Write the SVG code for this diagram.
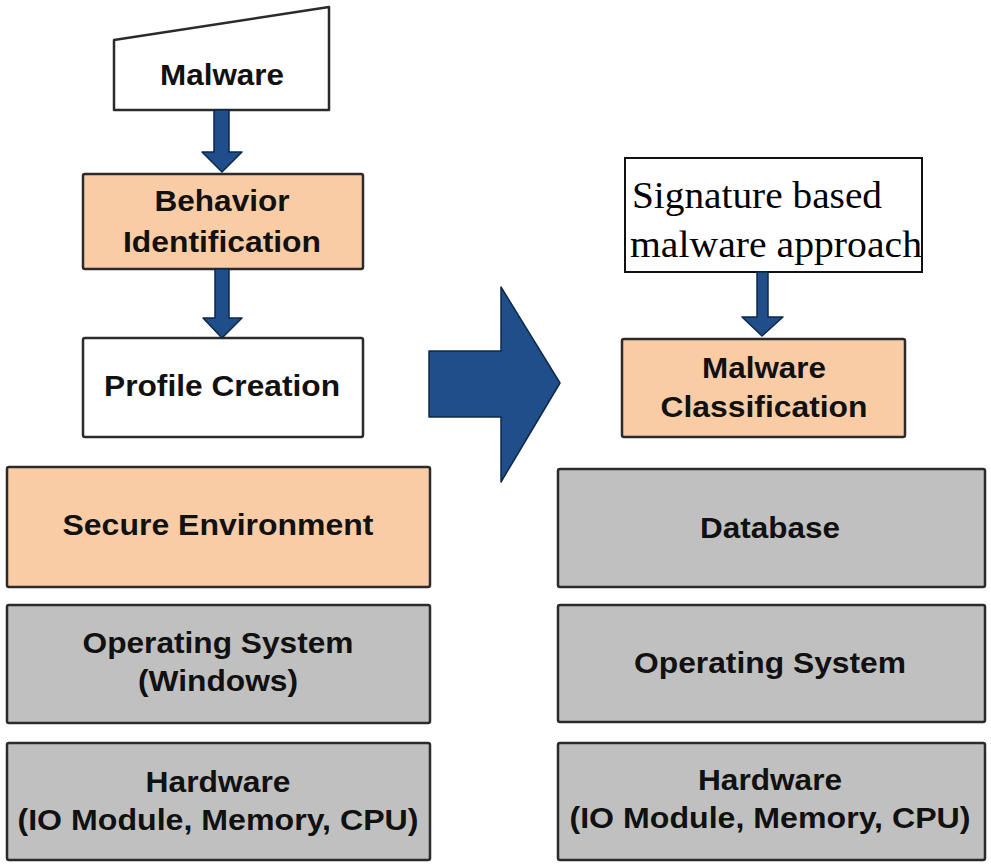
<svg xmlns="http://www.w3.org/2000/svg" width="991" height="867" viewBox="0 0 991 867">
<style>
.box{stroke:#2b2b2b;stroke-width:2.5}
.w{fill:#ffffff}
.o{fill:#facca6}
.g{fill:#c0c0c0}
.t{font-family:"Liberation Sans",Arial,sans-serif;font-weight:bold;font-size:29px;fill:#111;text-anchor:middle}
.s{font-family:"Liberation Serif","Times New Roman",serif;font-size:38px;fill:#000}
.arr{fill:#1f4e8a;stroke:#0e2848;stroke-width:1.5;stroke-linejoin:round}
</style>
<rect width="991" height="867" fill="#ffffff"/>
<g id="malware">
<polygon class="box w" points="114,40 329,7 329,110 114,110" stroke-linejoin="round"/>
<text class="t" x="222" y="85" textLength="124" lengthAdjust="spacingAndGlyphs">Malware</text>
</g>
<g id="behavior">
<rect class="box o" x="83" y="174" width="280" height="95" rx="2"/>
<text class="t" x="222" y="211" textLength="135" lengthAdjust="spacingAndGlyphs">Behavior</text>
<text class="t" x="222" y="252" textLength="198" lengthAdjust="spacingAndGlyphs">Identification</text>
</g>
<g id="profile">
<rect class="box w" x="83" y="338" width="280" height="99" rx="2"/>
<text class="t" x="222" y="396" textLength="236" lengthAdjust="spacingAndGlyphs">Profile Creation</text>
</g>
<g id="secure">
<rect class="box o" x="7" y="467" width="423" height="120" rx="2"/>
<text class="t" x="218" y="535" textLength="311" lengthAdjust="spacingAndGlyphs">Secure Environment</text>
</g>
<g id="os-left">
<rect class="box g" x="7" y="605" width="423" height="118" rx="2"/>
<text class="t" x="218" y="653" textLength="271" lengthAdjust="spacingAndGlyphs">Operating System</text>
<text class="t" x="218" y="691" textLength="160" lengthAdjust="spacingAndGlyphs">(Windows)</text>
</g>
<g id="hw-left">
<rect class="box g" x="7" y="743" width="423" height="117" rx="2"/>
<text class="t" x="218" y="792" textLength="145" lengthAdjust="spacingAndGlyphs">Hardware</text>
<text class="t" x="218" y="830" textLength="401" lengthAdjust="spacingAndGlyphs">(IO Module, Memory, CPU)</text>
</g>
<g id="signature">
<rect x="625" y="158" width="297" height="114" fill="#ffffff" stroke="#111" stroke-width="2"/>
<text class="s" x="632" y="208" textLength="250" lengthAdjust="spacingAndGlyphs">Signature based</text>
<text class="s" x="630" y="257" textLength="292" lengthAdjust="spacingAndGlyphs">malware approach</text>
</g>
<g id="classification">
<rect class="box o" x="622" y="339" width="283" height="98" rx="2"/>
<text class="t" x="764" y="378" textLength="124" lengthAdjust="spacingAndGlyphs">Malware</text>
<text class="t" x="764" y="417" textLength="207" lengthAdjust="spacingAndGlyphs">Classification</text>
</g>
<g id="database">
<rect class="box g" x="558" y="469" width="427" height="118" rx="2"/>
<text class="t" x="770" y="538" textLength="140" lengthAdjust="spacingAndGlyphs">Database</text>
</g>
<g id="os-right">
<rect class="box g" x="558" y="605" width="427" height="117" rx="2"/>
<text class="t" x="770" y="673" textLength="272" lengthAdjust="spacingAndGlyphs">Operating System</text>
</g>
<g id="hw-right">
<rect class="box g" x="558" y="743" width="427" height="117" rx="2"/>
<text class="t" x="770" y="790" textLength="144" lengthAdjust="spacingAndGlyphs">Hardware</text>
<text class="t" x="770" y="828" textLength="401" lengthAdjust="spacingAndGlyphs">(IO Module, Memory, CPU)</text>
</g>
<g id="connectors">
<polygon class="arr" points="214,110 229,110 229,152 242,152 222,172 202,152 214,152"/>
<polygon class="arr" points="215,269 229,269 229,318 242,318 222,338 203,318 215,318"/>
<polygon class="arr" points="757,272 768,272 768,317 783,317 762,336 742,317 757,317"/>
<polygon class="arr" points="429,351 501,351 501,287 560,383 501,482 501,417 429,417"/>
</g>
</svg>
